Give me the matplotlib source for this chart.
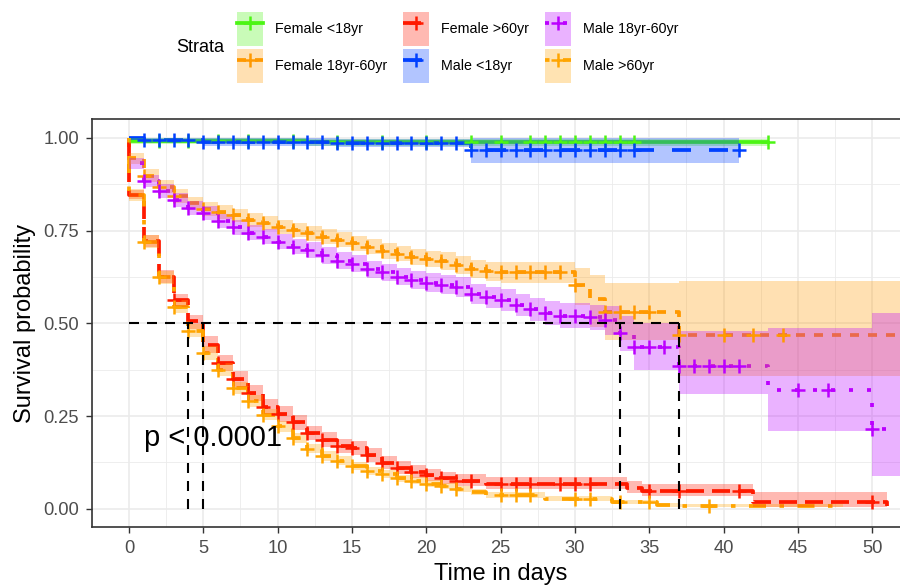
import numpy as np
import matplotlib
matplotlib.use("Agg")
import matplotlib.pyplot as plt
from matplotlib.patches import Rectangle
from matplotlib.lines import Line2D

plt.rcParams['font.family'] = ['Liberation Sans', 'DejaVu Sans']
plt.rcParams['lines.scale_dashes'] = False

# ---------------- data ----------------
strata = ["Female <18yr", "Female 18yr-60yr", "Female >60yr",
          "Male <18yr", "Male 18yr-60yr", "Male >60yr"]
colors = ["#4CF514", "#FF9900", "#FF1A00", "#0040FF", "#BB00FF", "#FFA500"]

# Female <18yr
f18_t = [0, 12]
f18_s = [0.992, 0.988]
f18_lo = [0.984, 0.978]
f18_hi = [1.0, 0.997]
f18_cens = [2, 4, 6, 8, 11, 14, 17, 20, 23, 25, 27, 28, 29, 30, 31, 32, 33, 34, 43]
f18_end = 43

# Female 18yr-60yr
fmid_t = [0, 1, 2, 3, 4, 5, 6, 7, 8, 9, 10, 11, 12, 13, 14, 15, 16, 17, 18, 19,
          20, 21, 22, 23, 24, 25, 30, 31, 32, 37]
fmid_s = [0.945, 0.898, 0.868, 0.843, 0.823, 0.808, 0.800, 0.791, 0.779, 0.770,
          0.760, 0.752, 0.743, 0.734, 0.725, 0.716, 0.707, 0.695, 0.688, 0.679,
          0.673, 0.668, 0.657, 0.646, 0.640, 0.637, 0.604, 0.566, 0.530, 0.469]
fmid_lo = [0.930, 0.880, 0.850, 0.825, 0.805, 0.790, 0.782, 0.773, 0.760, 0.751,
           0.741, 0.733, 0.723, 0.714, 0.705, 0.696, 0.686, 0.674, 0.667, 0.657,
           0.651, 0.645, 0.633, 0.621, 0.614, 0.608, 0.550, 0.491, 0.456, 0.357]
fmid_hi = [0.960, 0.915, 0.886, 0.861, 0.841, 0.826, 0.818, 0.809, 0.798, 0.789,
           0.779, 0.771, 0.763, 0.754, 0.745, 0.736, 0.728, 0.716, 0.709, 0.701,
           0.695, 0.691, 0.681, 0.671, 0.666, 0.666, 0.649, 0.629, 0.608, 0.613]
fmid_cens = [1, 2, 3, 5, 6, 7, 8, 9, 10, 11, 12, 13, 14, 15, 16, 17, 18, 19, 20,
             21, 22, 23, 24, 25, 26, 27, 28, 29, 30, 32, 33, 34, 35, 37, 40, 42, 44]
fmid_end = 53

# Female >60yr
fold_t = [0, 1, 2, 3, 4, 5, 6, 7, 8, 9, 10, 11, 12, 13, 14, 15, 16, 17, 18, 19,
          20, 21, 22, 24, 33.5, 34.5, 42, 51]
fold_s = [0.846, 0.722, 0.626, 0.563, 0.505, 0.442, 0.393, 0.350, 0.312, 0.275,
          0.255, 0.233, 0.204, 0.186, 0.168, 0.163, 0.145, 0.124, 0.110, 0.100,
          0.090, 0.082, 0.076, 0.068, 0.057, 0.047, 0.018, 0.007]
fold_lo = [0.835, 0.706, 0.610, 0.545, 0.485, 0.420, 0.372, 0.329, 0.291, 0.255,
           0.235, 0.213, 0.185, 0.167, 0.150, 0.145, 0.127, 0.107, 0.094, 0.084,
           0.075, 0.067, 0.061, 0.054, 0.043, 0.034, 0.006, 0.002]
fold_hi = [0.860, 0.738, 0.644, 0.580, 0.523, 0.465, 0.415, 0.372, 0.334, 0.296,
           0.276, 0.254, 0.224, 0.206, 0.188, 0.183, 0.165, 0.143, 0.129, 0.118,
           0.108, 0.100, 0.094, 0.086, 0.076, 0.066, 0.045, 0.030]
fold_cens = [3, 6, 7, 8, 9, 10, 11, 12, 13, 14, 15, 16, 17, 18, 19, 20, 21, 22, 23,
             25, 26, 27, 29, 30, 31, 35, 37, 41, 50]
fold_end = 51

# Male <18yr
m18_t = [1, 5, 14, 23]
m18_s = [0.993, 0.989, 0.985, 0.967]
m18_lo = [0.985, 0.979, 0.974, 0.931]
m18_hi = [1.0, 0.999, 0.996, 1.0]
m18_cens = [1, 2, 3, 4, 5, 6, 7, 8, 9, 10, 11, 12, 13, 14, 15, 16, 17, 18, 19, 20,
            21, 22, 23, 24, 25, 26, 27, 28, 29, 30, 31, 32, 33, 34, 41]
m18_end = 41

# Male 18yr-60yr
mmid_t = [0, 1, 2, 3, 4, 5, 6, 7, 8, 9, 10, 11, 12, 13, 14, 15, 16, 17, 18, 19,
          20, 21, 22, 23, 24, 25, 26, 27, 28, 29, 31, 32, 33, 34, 37, 43, 50]
mmid_s = [0.931, 0.884, 0.857, 0.832, 0.810, 0.797, 0.776, 0.759, 0.744, 0.734,
          0.720, 0.707, 0.698, 0.683, 0.669, 0.660, 0.646, 0.637, 0.626, 0.617,
          0.610, 0.604, 0.598, 0.579, 0.570, 0.563, 0.550, 0.538, 0.527, 0.521,
          0.516, 0.509, 0.474, 0.435, 0.386, 0.321, 0.215]
mmid_lo = [0.915, 0.867, 0.839, 0.814, 0.791, 0.778, 0.756, 0.739, 0.724, 0.713,
           0.699, 0.686, 0.676, 0.661, 0.647, 0.637, 0.623, 0.613, 0.602, 0.592,
           0.585, 0.578, 0.572, 0.552, 0.542, 0.534, 0.520, 0.507, 0.495, 0.488,
           0.482, 0.469, 0.424, 0.375, 0.310, 0.210, 0.087]
mmid_hi = [0.947, 0.901, 0.875, 0.850, 0.829, 0.816, 0.796, 0.779, 0.764, 0.755,
           0.741, 0.728, 0.720, 0.705, 0.691, 0.683, 0.669, 0.661, 0.650, 0.642,
           0.635, 0.630, 0.624, 0.606, 0.598, 0.592, 0.580, 0.569, 0.559, 0.554,
           0.550, 0.547, 0.520, 0.500, 0.478, 0.487, 0.527]
mmid_cens = [1, 2, 3, 4, 5, 6, 7, 8, 9, 10, 11, 12, 13, 14, 15, 16, 17, 18, 19, 20,
             21, 22, 23, 24, 25, 26, 27, 28, 29, 30, 31, 32, 33, 34, 35, 36, 37, 38,
             39, 40, 41, 45, 47, 50]
mmid_end = 53

# Male >60yr
mold_t = [0, 1, 2, 3, 4, 5, 6, 7, 8, 9, 10, 11, 12, 13, 14, 15, 16, 17, 18, 19,
          20, 21, 22, 23, 24, 28, 32.5, 35.5, 37]
mold_s = [0.846, 0.720, 0.624, 0.545, 0.480, 0.420, 0.375, 0.326, 0.290, 0.254,
          0.222, 0.191, 0.162, 0.142, 0.130, 0.115, 0.101, 0.093, 0.082, 0.076,
          0.068, 0.061, 0.053, 0.045, 0.037, 0.027, 0.017, 0.010, 0.007]
mold_lo = [0.830, 0.703, 0.606, 0.527, 0.462, 0.402, 0.357, 0.309, 0.273, 0.238,
           0.207, 0.177, 0.149, 0.130, 0.118, 0.104, 0.091, 0.083, 0.073, 0.067,
           0.059, 0.053, 0.045, 0.038, 0.030, 0.021, 0.012, 0.006, 0.004]
mold_hi = [0.862, 0.737, 0.642, 0.563, 0.498, 0.438, 0.393, 0.343, 0.307, 0.270,
           0.237, 0.205, 0.175, 0.155, 0.142, 0.127, 0.112, 0.104, 0.092, 0.086,
           0.078, 0.070, 0.062, 0.054, 0.045, 0.035, 0.024, 0.016, 0.012]
mold_cens = [1, 2, 3, 4, 5, 6, 7, 8, 9, 10, 11, 12, 13, 14, 15, 16, 17, 18, 19, 20,
             21, 22, 25, 26, 27, 30, 31, 33, 35, 39]
mold_end = 48

curves = [
    (f18_t, f18_s, f18_lo, f18_hi, f18_cens, f18_end),
    (fmid_t, fmid_s, fmid_lo, fmid_hi, fmid_cens, fmid_end),
    (fold_t, fold_s, fold_lo, fold_hi, fold_cens, fold_end),
    (m18_t, m18_s, m18_lo, m18_hi, m18_cens, m18_end),
    (mmid_t, mmid_s, mmid_lo, mmid_hi, mmid_cens, mmid_end),
    (mold_t, mold_s, mold_lo, mold_hi, mold_cens, mold_end),
]

x_ticks = [0, 5, 10, 15, 20, 25, 30, 35, 40, 45, 50]
y_ticks = [0.0, 0.25, 0.5, 0.75, 1.0]
y_ticklabels = ["0.00", "0.25", "0.50", "0.75", "1.00"]
pval_text = "p < 0.0001"

# ---------------- styles ----------------
px = 0.72  # points per pixel at dpi 100
linestyles = [
    "-",
    (0, (9 * px, 9 * px)),
    (0, (18 * px, 8 * px)),
    (0, (19 * px, 18 * px)),
    (0, (4 * px, 14 * px)),
    (0, (4.5 * px, 13.5 * px, 17 * px, 13.5 * px)),
]
LW = 2.7
MS = 9.5
MEW = 1.8
ALPHA = 0.3

W, H = 900, 585
fig = plt.figure(figsize=(9, 5.85), dpi=100)
ax_left, ax_right, ax_top, ax_bottom = 91.8, 909.5, 119.3, 527.3
ax = fig.add_axes([ax_left / W, 1 - ax_bottom / H, (ax_right - ax_left) / W,
                   (ax_bottom - ax_top) / H])
ax.set_xlim(-2.5, 52.5)
ax.set_ylim(-0.05, 1.05)

# grid
ax.set_xticks(x_ticks)
ax.set_xticks(np.arange(-2.5, 53, 5), minor=True)
ax.set_yticks(y_ticks)
ax.set_yticklabels(y_ticklabels)
ax.set_yticks([0.125, 0.375, 0.625, 0.875], minor=True)
ax.grid(True, which='major', color='#EBEBEB', lw=1.2, zorder=0)
ax.grid(True, which='minor', color='#EBEBEB', lw=0.6, zorder=0)
ax.set_axisbelow(True)
ax.tick_params(which='minor', length=0)
ax.tick_params(which='major', length=4.3, width=1.0, color='#333333',
               labelsize=13.2, labelcolor='#4D4D4D', pad=5.0)
for sp in ax.spines.values():
    sp.set_color('#333333')
    sp.set_linewidth(1.2)


def step_xy(t, s, end):
    x = [0.0] + list(t) + [end]
    y = [1.0] + list(s) + [s[-1]]
    return np.array(x, float), np.array(y, float)


def step_band(t, lo, hi, end):
    x = [0.0] + list(t) + [end]
    l = [1.0] + list(lo) + [lo[-1]]
    h = [1.0] + list(hi) + [hi[-1]]
    return np.array(x, float), np.array(l, float), np.array(h, float)


# lines
for i, (t, s, lo, hi, cens, end) in enumerate(curves):
    x, y = step_xy(t, s, end)
    ax.plot(x, y, drawstyle='steps-post', color=colors[i], lw=LW,
            linestyle=linestyles[i], zorder=2, solid_capstyle='butt')
# ribbons
for i, (t, s, lo, hi, cens, end) in enumerate(curves):
    x, l, h = step_band(t, lo, hi, end)
    ax.fill_between(x, l, h, step='post', color=colors[i], alpha=ALPHA, lw=0,
                    zorder=3)
# censor marks
for i, (t, s, lo, hi, cens, end) in enumerate(curves):
    ta = np.array(t, float)
    sa = np.array(s, float)
    idx = np.searchsorted(ta, np.array(cens, float), side='right') - 1
    cy = np.where(idx >= 0, sa[np.clip(idx, 0, None)], 1.0)
    ax.plot(cens, cy, ls='none', marker='+', ms=MS, mew=MEW, color=colors[i],
            zorder=4)

# median lines
medians = []
for (t, s, lo, hi, cens, end) in curves:
    sa = np.array(s)
    below = np.where(sa <= 0.5)[0]
    if len(below):
        medians.append(t[below[0]])
med_ls = (0, (10 * px, 8 * px))
ax.plot([0, max(medians)], [0.5, 0.5], color='black', lw=1.5, ls=med_ls, zorder=5)
for m in medians:
    ax.plot([m, m], [0, 0.5], color='black', lw=1.5, ls=med_ls, zorder=5)

ax.text(1.0, 0.192, pval_text, fontsize=21, ha='left', va='center', zorder=6)

ax.set_xlabel("Time in days", fontsize=17, labelpad=4.5)
ax.set_ylabel("Survival probability", fontsize=17, labelpad=5)

# legend
handles = []
for i in range(6):
    patch = Rectangle((0, 0), 1, 1, facecolor=colors[i], alpha=ALPHA, lw=0)
    line = Line2D([], [], color=colors[i], lw=LW, linestyle=linestyles[i],
                  marker='+', ms=MS, mew=MEW)
    handles.append((patch, line))
fs_leg = 10.3
fpx = fs_leg / px
hh = (34 / fpx - 0.245) / 0.65
leg = fig.legend(handles, strata, ncol=3, loc='upper left',
                 bbox_to_anchor=(236.7 / W, 1 - 12 / H), frameon=False,
                 fontsize=fs_leg, handlelength=26 / fpx, handleheight=hh,
                 labelspacing=3 / fpx, columnspacing=16 / fpx,
                 handletextpad=12 / fpx, borderpad=0, borderaxespad=0)
fig.text(176.7 / W, 1 - 48 / H, "Strata", fontsize=13, ha='left', va='center')

fig.savefig("out.png", dpi=100)
